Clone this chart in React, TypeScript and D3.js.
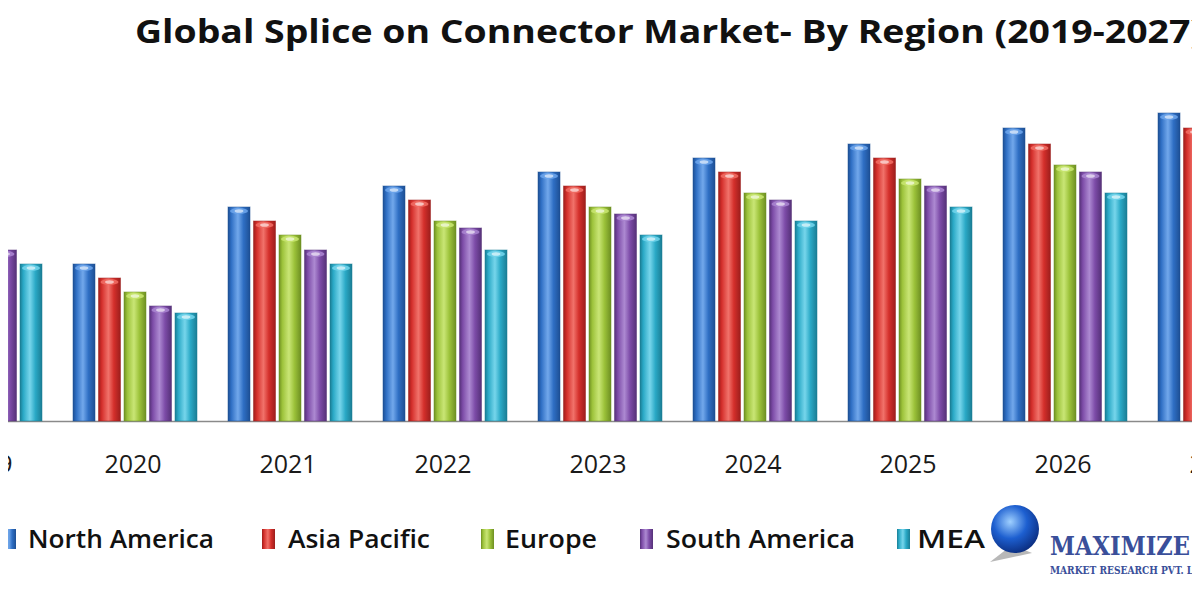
import React from "react";
import * as d3 from "d3";

const years = ["2019", "2020", "2021", "2022", "2023", "2024", "2025", "2026", "2027"];
const series = ["North America", "Asia Pacific", "Europe", "South America", "MEA"];
const northAmerica = [214, 157, 214, 235, 249, 263, 277, 293, 308];
const asiaPacific = [200, 143, 200, 221, 235, 249, 263, 277, 293];
const europe = [186, 129, 186, 200, 214, 228, 242, 256, 271];
const southAmerica = [171, 115, 171, 193, 207, 221, 235, 249, 263];
const mea = [157, 108, 157, 171, 186, 200, 214, 228, 242];
const seriesValues = [northAmerica, asiaPacific, europe, southAmerica, mea];
const colors = ["#2f6fc4", "#d42f2b", "#9cc23a", "#7d4ca8", "#2aa9c6"];
const darks = ["#1d4f94", "#9c1e1c", "#6e8f22", "#553178", "#1a7d94"];
const lights = ["#6aa3ea", "#f06a62", "#c6e46e", "#a883cf", "#6fd3ea"];

const W = 1200;
const H = 600;
const baseY = 421;

export default function App() {
  const x0 = d3.scaleBand<string>().domain(years).range([-97.5, 1297.5]).paddingInner(0.2).paddingOuter(0.1);
  const x1 = d3.scaleBand<string>().domain(series).range([0, x0.bandwidth()]).paddingInner(0.137).paddingOuter(0);
  const y = d3.scaleLinear().domain([0, 421]).range([baseY, 0]);
  const bw = x1.bandwidth();

  const legendItems = [
    { sx: 3, tx: 28, tw: 186 },
    { sx: 262, tx: 288, tw: 142 },
    { sx: 481, tx: 505, tw: 92 },
    { sx: 640, tx: 666, tw: 189 },
    { sx: 897, tx: 917, tw: 68 },
  ];

  return (
    <svg width={W} height={H} style={{ display: "block", margin: "-8px" }} fontFamily="'Open Sans', 'Noto Sans', sans-serif">
      <defs>
        {series.map((s, i) => (
          <linearGradient key={s} id={`g${i}`} x1="0" x2="1" y1="0" y2="0">
            <stop offset="0" stopColor={darks[i]} />
            <stop offset="0.15" stopColor={colors[i]} />
            <stop offset="0.45" stopColor={lights[i]} stopOpacity={0.95} />
            <stop offset="0.7" stopColor={colors[i]} />
            <stop offset="1" stopColor={darks[i]} />
          </linearGradient>
        ))}
        <radialGradient id="globe" cx="0.4" cy="0.35" r="0.7">
          <stop offset="0" stopColor="#9fd0ff" />
          <stop offset="0.5" stopColor="#1d5fd0" />
          <stop offset="1" stopColor="#0a2a7a" />
        </radialGradient>
      </defs>
      <rect width={W} height={H} fill="#ffffff" />
      <text x={135} y={43} fontSize={33} fontWeight="bold" fill="#111" textLength={1068} lengthAdjust="spacingAndGlyphs">
        Global Splice on Connector Market- By Region (2019-2027)
      </text>
      <line x1={0} x2={W} y1={baseY + 0.5} y2={baseY + 0.5} stroke="#8a8a8a" strokeWidth={1.5} />
      {years.map((yr, j) => (
        <g key={yr} transform={`translate(${x0(yr)},0)`}>
          {series.map((s, i) => {
            const v = seriesValues[i][j];
            const bx = x1(s) as number;
            const top = y(v);
            return (
              <g key={s}>
                <rect x={bx} y={top} width={bw} height={baseY - top} fill={`url(#g${i})`} stroke={darks[i]} strokeOpacity={0.5} strokeWidth={1} />
                <ellipse cx={bx + bw / 2} cy={top + 4} rx={bw / 2 - 2} ry={3} fill={lights[i]} opacity={0.9} />
                <ellipse cx={bx + bw / 2} cy={top + 4} rx={bw / 5} ry={1.8} fill="#ffffff" opacity={0.6} />
              </g>
            );
          })}
          <text x={x0.bandwidth() / 2 - 2 + (j === 0 ? 6 : 0)} y={473} fontSize={25} textAnchor="middle" fill="#1a1a1a">
            {yr}
          </text>
        </g>
      ))}
      {legendItems.map((it, i) => (
        <g key={series[i]}>
          <rect x={it.sx} y={529} width={13} height={20} fill={`url(#g${i})`} />
          <text x={it.tx} y={548} fontSize={25} fontWeight={600} fill="#111" textLength={it.tw} lengthAdjust="spacingAndGlyphs">
            {series[i]}
          </text>
        </g>
      ))}
      <g>
        <path d="M990 562 L1012 545 L1032 553 Z" fill="#888" opacity={0.6} />
        <circle cx={1015} cy={529} r={24} fill="url(#globe)" />
        <text x={1050} y={555} fontFamily="'DejaVu Serif', serif" fontWeight="bold" fontSize={26} fill="#3a4f9a" textLength={140} lengthAdjust="spacingAndGlyphs">
          MAXIMIZE
        </text>
        <text x={1050} y={574} fontFamily="'DejaVu Serif', serif" fontWeight="bold" fontSize={11} fill="#3a4f9a" textLength={160} lengthAdjust="spacingAndGlyphs">
          MARKET RESEARCH PVT. LTD.
        </text>
      </g>
    </svg>
  );
}
